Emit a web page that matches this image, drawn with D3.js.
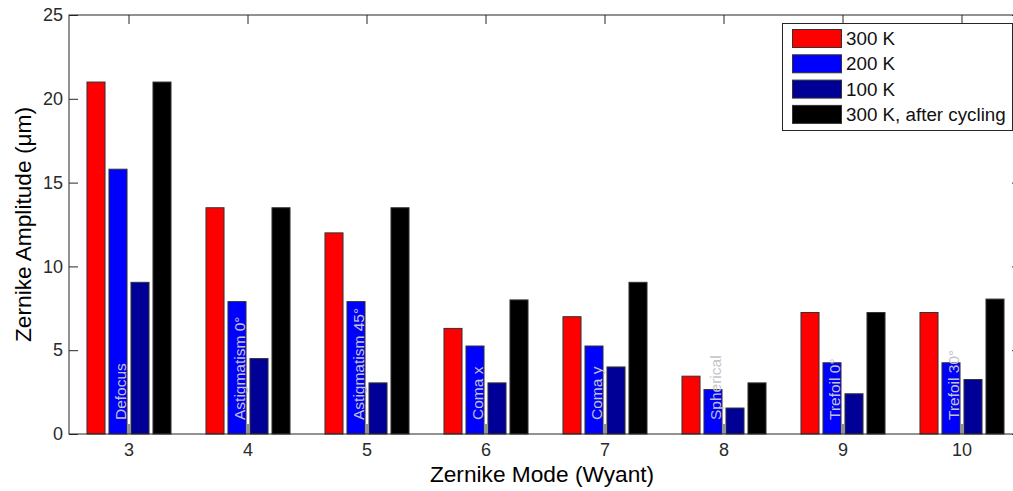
<!DOCTYPE html>
<html>
<head>
<meta charset="utf-8">
<script src="https://cdn.jsdelivr.net/npm/d3@7"></script>
<style>
	body { margin: 0; background: #fff; }
	text { font-family: "Liberation Sans", Arial, sans-serif; }
</style>
</head>
<body>
<div id="visual"></div>
<script>

///// DATA /////
var modes = [3, 4, 5, 6, 7, 8, 9, 10];
var modeNames = ["Defocus", "Astigmatism 0\u00b0", "Astigmatism 45\u00b0", "Coma x", "Coma y", "Spherical", "Trefoil 0\u00b0", "Trefoil 30\u00b0"];
var seriesNames = ["300 K", "200 K", "100 K", "300 K, after cycling"];
var k300 = [21, 13.5, 12, 6.3, 7, 3.45, 7.25, 7.25];
var k200 = [15.8, 7.9, 7.9, 5.25, 5.25, 2.65, 4.25, 4.25];
var k100 = [9.05, 4.5, 3.05, 3.05, 4, 1.55, 2.4, 3.25];
var k300after = [21, 13.5, 13.5, 8, 9.05, 3.05, 7.25, 8.05];
var yTicks = [0, 5, 10, 15, 20, 25];

var colors = ["#ff0000", "#0000ff", "#000096", "#000000"];

///// DIMENSIONS /////
var W = 1013, H = 491;
var margins = { left: 69, right: -8, top: 15, bottom: 57 };

var svg = d3.select('#visual').append('svg')
	.attr('width', W)
	.attr('height', H)
	.style('display', 'block');

var x = d3.scaleLinear()
	.domain([2.5, 10.5])
	.range([margins.left, W - margins.right]);

var y = d3.scaleLinear()
	.domain([0, 25])
	.range([H - margins.bottom, margins.top]);

// position of a bar within its group, in px around the group centre
var inner = d3.scaleBand()
	.domain(d3.range(seriesNames.length))
	.range([-44, 44])
	.paddingInner(0.18)
	.paddingOuter(0.09);

var series = [k300, k200, k100, k300after];

///// AXES (ticks under the bars) /////
var axisColor = '#262626';

var bottomAxis = svg.append('g')
	.attr('transform', `translate(0,${y(0)})`)
	.call(d3.axisBottom(x).tickValues(modes).tickSizeInner(-10).tickSizeOuter(0).tickPadding(9));

var topAxis = svg.append('g')
	.attr('transform', `translate(0,${y(25)})`)
	.call(d3.axisTop(x).tickValues(modes).tickSizeInner(-9).tickSizeOuter(0).tickFormat(''));

var leftAxis = svg.append('g')
	.attr('transform', `translate(${x(2.5)},0)`)
	.call(d3.axisLeft(y).tickValues(yTicks).tickSizeInner(-9).tickSizeOuter(0).tickPadding(6));

var rightAxis = svg.append('g')
	.attr('transform', `translate(${x(10.5)},0)`)
	.call(d3.axisRight(y).tickValues(yTicks).tickSizeInner(-9).tickSizeOuter(0).tickFormat(''));

svg.selectAll('.domain').remove();
svg.selectAll('.tick line').attr('stroke', axisColor);
svg.selectAll('.tick text')
	.attr('fill', '#2a2a2a')
	.style('font-size', '18px');

///// BARS /////
var groups = svg.selectAll('.series')
	.data(series).enter().append('g')
	.attr('class', 'series')
	.attr('fill', (d, i) => colors[i]);

groups.each(function(vals, si) {
	d3.select(this).selectAll('rect')
		.data(vals).enter().append('rect')
		.attr('x', (d, i) => x(modes[i]) + inner(si) + 0.5)
		.attr('y', d => y(d))
		.attr('width', inner.bandwidth())
		.attr('height', d => y(0) - y(d))
		.attr('stroke', '#333')
		.attr('stroke-width', 1);
});

// mode names written up the 200 K bars
svg.append('g').selectAll('text')
	.data(modeNames).enter().append('text')
	.attr('transform', (d, i) => {
		var bx = x(modes[i]) + inner(1) + inner.bandwidth() - 1;
		return `translate(${bx},${y(0) - 14}) rotate(-90)`;
	})
	.attr('fill', '#c4c4cc')
	.style('font-size', '15.5px')
	.text(d => d);

///// AXIS BOX /////
svg.append('rect')
	.attr('x', x(2.5)).attr('y', y(25))
	.attr('width', x(10.5) - x(2.5)).attr('height', y(0) - y(25))
	.attr('fill', 'none')
	.attr('stroke', axisColor)
	.attr('stroke-width', 1);

///// LABELS /////
svg.append('text')
	.attr('x', 542)
	.attr('y', 482)
	.style('text-anchor', 'middle')
	.style('font-size', '22.7px')
	.text('Zernike Mode (Wyant)');

svg.append('text')
	.attr('transform', `translate(31,${(y(0) + y(25)) / 2}) rotate(-90)`)
	.style('text-anchor', 'middle')
	.style('font-size', '22.7px')
	.text('Zernike Amplitude (\u03bcm)');

///// LEGEND /////
var legend = svg.append('g').attr('transform', 'translate(782,23)');

legend.append('rect')
	.attr('x', 0.5).attr('y', 0.5)
	.attr('width', 230).attr('height', 107)
	.attr('fill', '#fff')
	.attr('stroke', axisColor);

var items = legend.selectAll('.legend')
	.data(seriesNames).enter().append('g')
	.attr('class', 'legend')
	.attr('transform', (d, i) => `translate(0,${6 + i * 25.3})`);

items.append('rect')
	.attr('x', 10.5).attr('y', 0.5)
	.attr('width', 49).attr('height', 18)
	.attr('fill', (d, i) => colors[i])
	.attr('stroke', '#333');

items.append('text')
	.attr('x', 64)
	.attr('y', 16)
	.style('font-size', '18.8px')
	.attr('fill', '#111')
	.text(d => d);

</script>
</body>
</html>
